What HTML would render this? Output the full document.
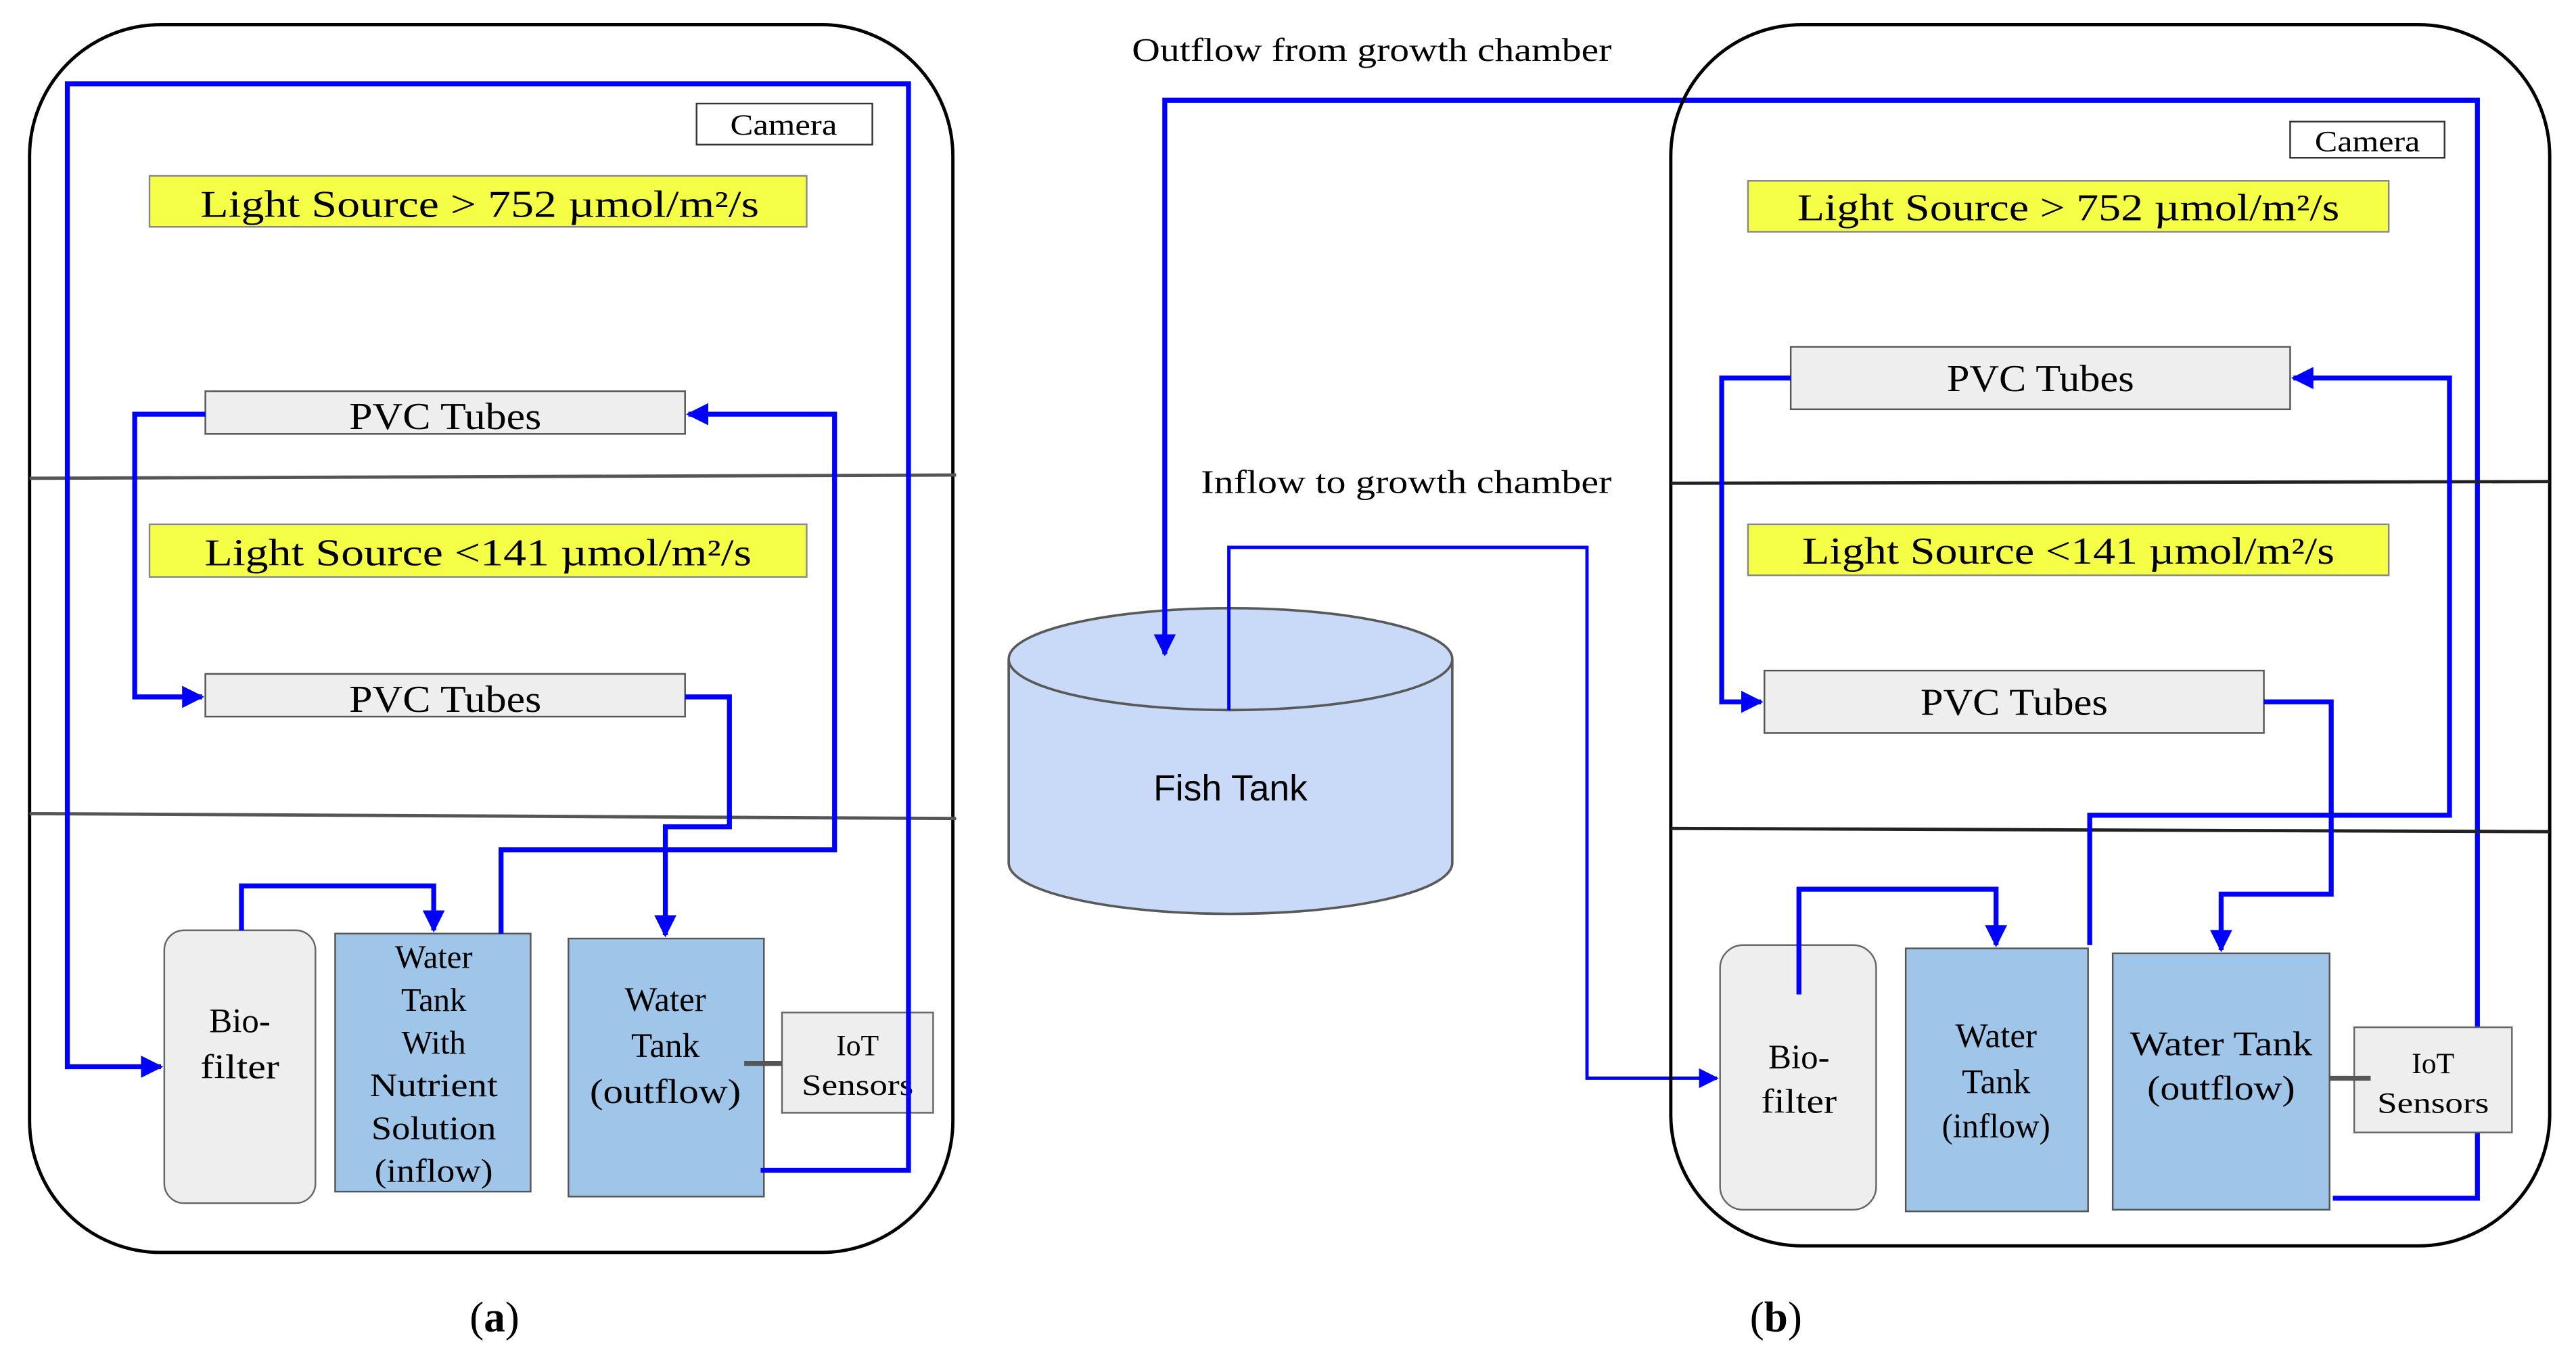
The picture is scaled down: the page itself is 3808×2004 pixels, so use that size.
<!DOCTYPE html>
<html><head><meta charset="utf-8"><style>html,body{margin:0;padding:0;background:#fff}svg{display:block}</style></head>
<body>
<svg width="3808" height="2004" viewBox="0 0 1568 825" preserveAspectRatio="none" xmlns="http://www.w3.org/2000/svg">
<defs>
<marker id="ar" viewBox="0 0 10 10" refX="9" refY="5" markerWidth="4.5" markerHeight="4.5" orient="auto" markerUnits="strokeWidth"><path d="M0,0 L10,5 L0,10 z" fill="#0000ff"/></marker>
<marker id="ar2" viewBox="0 0 10 10" refX="9" refY="5" markerWidth="6" markerHeight="6" orient="auto" markerUnits="strokeWidth"><path d="M0,0 L10,5 L0,10 z" fill="#0000ff"/></marker>
</defs>
<g font-family="Liberation Serif, serif" fill="#000" lengthAdjust="spacingAndGlyphs">
<!-- Left panel -->
<rect x="18" y="15" width="562" height="747" rx="80" fill="none" stroke="#000" stroke-width="2"/>
<line x1="18" y1="291" x2="582" y2="289" stroke="#555" stroke-width="2"/>
<line x1="18" y1="495" x2="582" y2="498" stroke="#555" stroke-width="2"/>
<rect x="424" y="63" width="107" height="25" fill="#fff" stroke="#333"/>
<text x="477" y="82" font-size="18" text-anchor="middle" textLength="65" lengthAdjust="spacingAndGlyphs">Camera</text>
<rect x="91" y="107" width="400" height="31" fill="#f4ff45" stroke="#888"/>
<text x="292" y="132" font-size="23" text-anchor="middle" textLength="340" lengthAdjust="spacingAndGlyphs">Light Source &gt; 752 µmol/m²/s</text>
<rect x="125" y="238" width="292" height="26" fill="#eee" stroke="#555"/>
<text x="271" y="261" font-size="23" text-anchor="middle" textLength="117" lengthAdjust="spacingAndGlyphs">PVC Tubes</text>
<rect x="91" y="319" width="400" height="32" fill="#f4ff45" stroke="#888"/>
<text x="291" y="344" font-size="23" text-anchor="middle" textLength="333" lengthAdjust="spacingAndGlyphs">Light Source &lt;141 µmol/m²/s</text>
<rect x="125" y="410" width="292" height="26" fill="#eee" stroke="#555"/>
<text x="271" y="433" font-size="23" text-anchor="middle" textLength="117" lengthAdjust="spacingAndGlyphs">PVC Tubes</text>
<rect x="100" y="566" width="92" height="166" rx="12" fill="#eee" stroke="#666"/>
<text x="146" y="628" font-size="21" text-anchor="middle">Bio-</text>
<text x="146" y="656" font-size="21" text-anchor="middle" textLength="48" lengthAdjust="spacingAndGlyphs">filter</text>
<rect x="204" y="568" width="119" height="157" fill="#9fc5e8" stroke="#555"/>
<g font-size="20" text-anchor="middle"><text x="264" y="589">Water</text><text x="264" y="615">Tank</text><text x="264" y="641">With</text><text x="264" y="667" textLength="78" lengthAdjust="spacingAndGlyphs">Nutrient</text><text x="264" y="693" textLength="76" lengthAdjust="spacingAndGlyphs">Solution</text><text x="264" y="719" textLength="72" lengthAdjust="spacingAndGlyphs">(inflow)</text></g>
<rect x="346" y="571" width="119" height="157" fill="#9fc5e8" stroke="#555"/>
<g font-size="21" text-anchor="middle"><text x="405" y="615">Water</text><text x="405" y="643">Tank</text><text x="405" y="671" textLength="92" lengthAdjust="spacingAndGlyphs">(outflow)</text></g>
<rect x="476" y="616" width="92" height="61" fill="#eee" stroke="#666"/>
<text x="522" y="642" font-size="18" text-anchor="middle">IoT</text>
<text x="522" y="666" font-size="18" text-anchor="middle" textLength="68" lengthAdjust="spacingAndGlyphs">Sensors</text>
<line x1="453" y1="647" x2="476" y2="647" stroke="#555" stroke-width="3"/>
<g fill="none" stroke="#0000ff" stroke-width="3">
<polyline points="463,712 553,712 553,51 41,51 41,649 98,649" marker-end="url(#ar)"/>
<polyline points="147,566 147,539 264,539 264,566" marker-end="url(#ar)"/>
<polyline points="305,568 305,517 508,517 508,252 419,252" marker-end="url(#ar)"/>
<polyline points="125,252 82,252 82,424 123,424" marker-end="url(#ar)"/>
<polyline points="417,424 444,424 444,503 405,503 405,569" marker-end="url(#ar)"/>
</g>
<!-- Middle -->
<text x="689" y="37" font-size="20" textLength="292" lengthAdjust="spacingAndGlyphs">Outflow from growth chamber</text>
<text x="731" y="300" font-size="20" textLength="250" lengthAdjust="spacingAndGlyphs">Inflow to growth chamber</text>
<path d="M614,401 L614,525 A135,31 0 0 0 884,525 L884,401" fill="#c9daf8" stroke="#595959" stroke-width="1.5"/>
<ellipse cx="749" cy="401" rx="135" ry="31" fill="#c9daf8" stroke="#595959" stroke-width="1.5"/>
<text x="749" y="487" font-size="22" font-family="Liberation Sans, sans-serif" text-anchor="middle">Fish Tank</text>
<g fill="none" stroke="#0000ff">
<polyline points="1420,729 1508,729 1508,61 709,61 709,398" stroke-width="3" marker-end="url(#ar)"/>
<polyline points="748,432 748,333 966,333 966,656 1045,656" stroke-width="2" marker-end="url(#ar2)"/>
</g>
<!-- Right panel -->
<rect x="1017" y="15" width="535" height="743" rx="80" fill="none" stroke="#000" stroke-width="2"/>
<line x1="1017" y1="294" x2="1552" y2="293" stroke="#222" stroke-width="2"/>
<line x1="1017" y1="504" x2="1552" y2="506" stroke="#222" stroke-width="2"/>
<rect x="1394" y="74" width="94" height="22" fill="#fff" stroke="#333"/>
<text x="1441" y="92" font-size="18" text-anchor="middle" textLength="64" lengthAdjust="spacingAndGlyphs">Camera</text>
<rect x="1064" y="110" width="390" height="31" fill="#f4ff45" stroke="#888"/>
<text x="1259" y="134" font-size="23" text-anchor="middle" textLength="330" lengthAdjust="spacingAndGlyphs">Light Source &gt; 752 µmol/m²/s</text>
<rect x="1090" y="211" width="304" height="38" fill="#eee" stroke="#555"/>
<text x="1242" y="238" font-size="23" text-anchor="middle" textLength="114" lengthAdjust="spacingAndGlyphs">PVC Tubes</text>
<rect x="1064" y="319" width="390" height="31" fill="#f4ff45" stroke="#888"/>
<text x="1259" y="343" font-size="23" text-anchor="middle" textLength="324" lengthAdjust="spacingAndGlyphs">Light Source &lt;141 µmol/m²/s</text>
<rect x="1074" y="408" width="304" height="38" fill="#eee" stroke="#555"/>
<text x="1226" y="435" font-size="23" text-anchor="middle" textLength="114" lengthAdjust="spacingAndGlyphs">PVC Tubes</text>
<rect x="1047" y="575" width="95" height="161" rx="14" fill="#eee" stroke="#666"/>
<text x="1095" y="650" font-size="21" text-anchor="middle">Bio-</text>
<text x="1095" y="677" font-size="21" text-anchor="middle" textLength="46" lengthAdjust="spacingAndGlyphs">filter</text>
<rect x="1160" y="577" width="111" height="160" fill="#9fc5e8" stroke="#555"/>
<g font-size="21" text-anchor="middle"><text x="1215" y="637">Water</text><text x="1215" y="665">Tank</text><text x="1215" y="692" textLength="66" lengthAdjust="spacingAndGlyphs">(inflow)</text></g>
<rect x="1286" y="580" width="132" height="156" fill="#9fc5e8" stroke="#555"/>
<g font-size="21" text-anchor="middle"><text x="1352" y="642" textLength="111" lengthAdjust="spacingAndGlyphs">Water Tank</text><text x="1352" y="669" textLength="90" lengthAdjust="spacingAndGlyphs">(outflow)</text></g>
<rect x="1433" y="625" width="96" height="64" fill="#eee" stroke="#666"/>
<text x="1481" y="653" font-size="18" text-anchor="middle">IoT</text>
<text x="1481" y="677" font-size="18" text-anchor="middle" textLength="68" lengthAdjust="spacingAndGlyphs">Sensors</text>
<line x1="1418" y1="656" x2="1443" y2="656" stroke="#555" stroke-width="3"/>
<g fill="none" stroke="#0000ff" stroke-width="3">
<polyline points="1095,605 1095,541 1215,541 1215,575" marker-end="url(#ar)"/>
<polyline points="1272,575 1272,496 1491,496 1491,230 1396,230" marker-end="url(#ar)"/>
<polyline points="1090,230 1048,230 1048,427 1072,427" marker-end="url(#ar)"/>
<polyline points="1378,427 1419,427 1419,544 1352,544 1352,578" marker-end="url(#ar)"/>
</g>
<text x="301" y="810" font-size="26" text-anchor="middle">(<tspan font-weight="bold">a</tspan>)</text>
<text x="1081" y="810" font-size="26" text-anchor="middle">(<tspan font-weight="bold">b</tspan>)</text>
</g>
</svg>
</body></html>
